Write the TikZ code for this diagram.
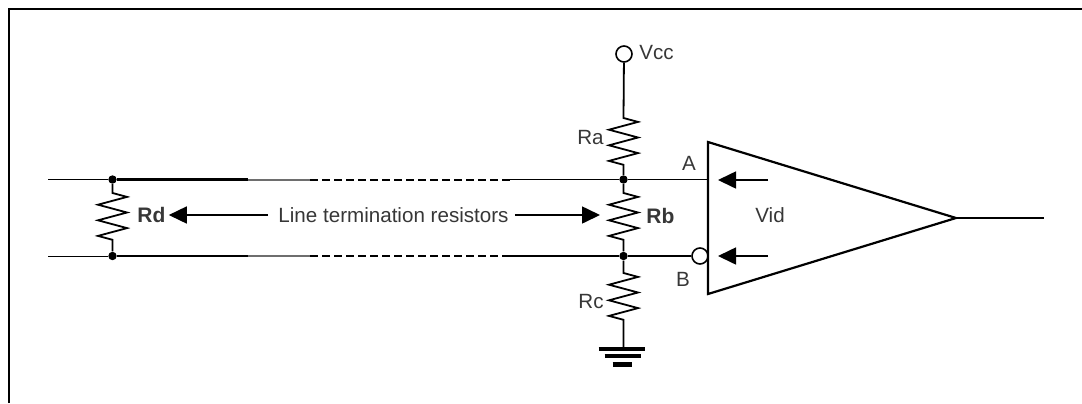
\documentclass[tikz,border=0pt]{standalone}
\usepackage{fontspec}
\setmainfont{Liberation Sans}
\usepackage{xcolor}
\definecolor{inkgray}{RGB}{55,55,55}
\definecolor{wiregray}{RGB}{110,110,110}
\usetikzlibrary{calc}
\usetikzlibrary{positioning}
\usetikzlibrary{arrows.meta}
\usetikzlibrary{decorations.pathmorphing}

\begin{document}
\begin{tikzpicture}[x=0.5pt,y=-0.5pt,
      font=\fontsize{10.3}{12}\selectfont,
      wire/.style={draw=black,line width=0.9pt},
      thin wire/.style={draw=black,line width=0.5pt},
      heavy wire/.style={draw=black,line width=1.4pt},
      grey wire/.style={draw=wiregray,line width=1pt},
      dash wire/.style={draw=black,line width=1pt,dash pattern=on 4pt off 2pt},
      zz/.style={decoration={zigzag,amplitude=7.25pt,segment length=7.8pt}},
      dot/.style={circle,fill=black,inner sep=0pt,minimum size=4.2pt},
      ring/.style={circle,draw=black,line width=0.8pt,inner sep=0pt,minimum size=8pt},
      lbl/.style={text=inkgray,inner sep=0pt},
      bold lbl/.style={lbl,font=\fontsize{10.5}{12}\selectfont\bfseries},
      arr/.style={draw=black,line width=0.8pt,-{Triangle[length=9pt,width=8.5pt]}},
      gnd bar/.style={draw=black,line width=2pt},
      amp/.style={draw=black,line width=1.1pt,line join=miter}
      ]
      \useasboundingbox (0,0) rectangle (1082,403);

      % frame, cut at the right and at the bottom
      \draw[line width=1pt] (8.5,403) -- (8.5,8.5) -- (1082,8.5);

      % junctions
      \node[dot] (rdA) at (112.5,179.5) {};
      \node[dot] (rdB) at (112.5,256) {};
      \node[dot] (dA) at (623.5,179.5) {};
      \node[dot] (dB) at (623.5,256) {};
      \node[ring] (vcc) at (624,54) {};
      \node[ring] (bub) at (700,256) {};

      % line A
      \coordinate (la) at (48,179.5);
      \coordinate (ta1) at (248,179.5);
      \coordinate (ta2) at (310,179.5);
      \coordinate (ta3) at (510,179.5);
      \coordinate (inA) at (708,179.5);
      \draw[thin wire] (la) -- (rdA);
      \draw[heavy wire] (rdA) -- (ta1);
      \draw[grey wire] (ta1) -- (ta2);
      \draw[dash wire] (ta2) -- (ta3);
      \draw[wire] (ta3) -- (dA);
      \draw[wire] (dA) -- (inA);

      % line B
      \coordinate (lb) at (48,256);
      \coordinate (tb1) at (248,256);
      \coordinate (tb2) at (310,256);
      \coordinate (tb3) at (510,256);
      \draw[thin wire] (lb) -- (rdB);
      \draw[heavy wire] (rdB) -- (tb1);
      \draw[grey wire] (tb1) -- (tb2);
      \draw[dash wire] (tb2) -- (tb3);
      \draw[wire] (tb3) -- (dB);
      \draw[wire] (dB) -- (bub.west);

      % resistors
      \coordinate (rd1) at (112.5,193);
      \coordinate (rd2) at (112.5,240);
      \draw[wire] (rdA) -- (rd1) decorate[zz]{-- (rd2)} -- (rdB);
      \coordinate (rb1) at (623.5,193);
      \coordinate (rb2) at (623.5,240);
      \draw[wire] (dA) -- (rb1) decorate[zz]{-- (rb2)} -- (dB);
      \coordinate (ra1) at (623.5,118);
      \coordinate (ra2) at (623.5,165);
      \draw[wire] (vcc) -- (ra1) decorate[zz]{-- (ra2)} -- (dA);
      \coordinate (rc1) at (623.5,273);
      \coordinate (rc2) at (623.5,320);
      \coordinate (gnd) at (623.5,349);
      \draw[wire] (dB) -- (rc1) decorate[zz]{-- (rc2)} -- (gnd);

      % ground
      \draw[gnd bar] ($(gnd)+(-25,0)$) -- ++(46,0);
      \draw[gnd bar] ($(gnd)+(-19,7)$) -- ++(36,0);
      \draw[gnd bar,line width=2.5pt] ($(gnd)+(-11,15)$) -- ++(19,0);

      % receiver
      \coordinate (ampT) at (708,142);
      \coordinate (ampO) at (956,218);
      \coordinate (ampB) at (708,294);
      \coordinate (out) at (1044,218);
      \draw[amp] (ampT) -- (ampO) -- (ampB) -- cycle;
      \draw[wire] (ampO) -- (out);
      \coordinate (vA) at (768,180);
      \coordinate (tipA) at (718,180);
      \coordinate (vB) at (768,256);
      \coordinate (tipB) at (718,256);
      \draw[arr] (vA) -- (tipA);
      \draw[arr] (vB) -- (tipB);

      % labels
      \node[lbl,anchor=west] (vcclbl) at (639,53) {Vcc};
      \node[lbl,anchor=east] (ra) at (604,138) {Ra};
      \node[bold lbl,anchor=west] (rb) at (646,216) {Rb};
      \node[lbl,anchor=east] (rc) at (604,302) {Rc};
      \node[lbl] (a) at (689,163) {A};
      \node[lbl] (b) at (683,279) {B};
      \node[lbl] (vid) at (770,215) {Vid};
      \node[bold lbl,anchor=west] (rd) at (137,215) {Rd};
      \node[lbl] (lt) at (393.5,215) {Line termination resistors};
      \coordinate (rbtip) at (600,215);

      \draw[arr] ([xshift=-5pt]lt.west) -- ([xshift=1.5pt]rd.east);
      \draw[arr] ([xshift=3pt]lt.east) -- (rbtip);
    \end{tikzpicture}
\end{document}
